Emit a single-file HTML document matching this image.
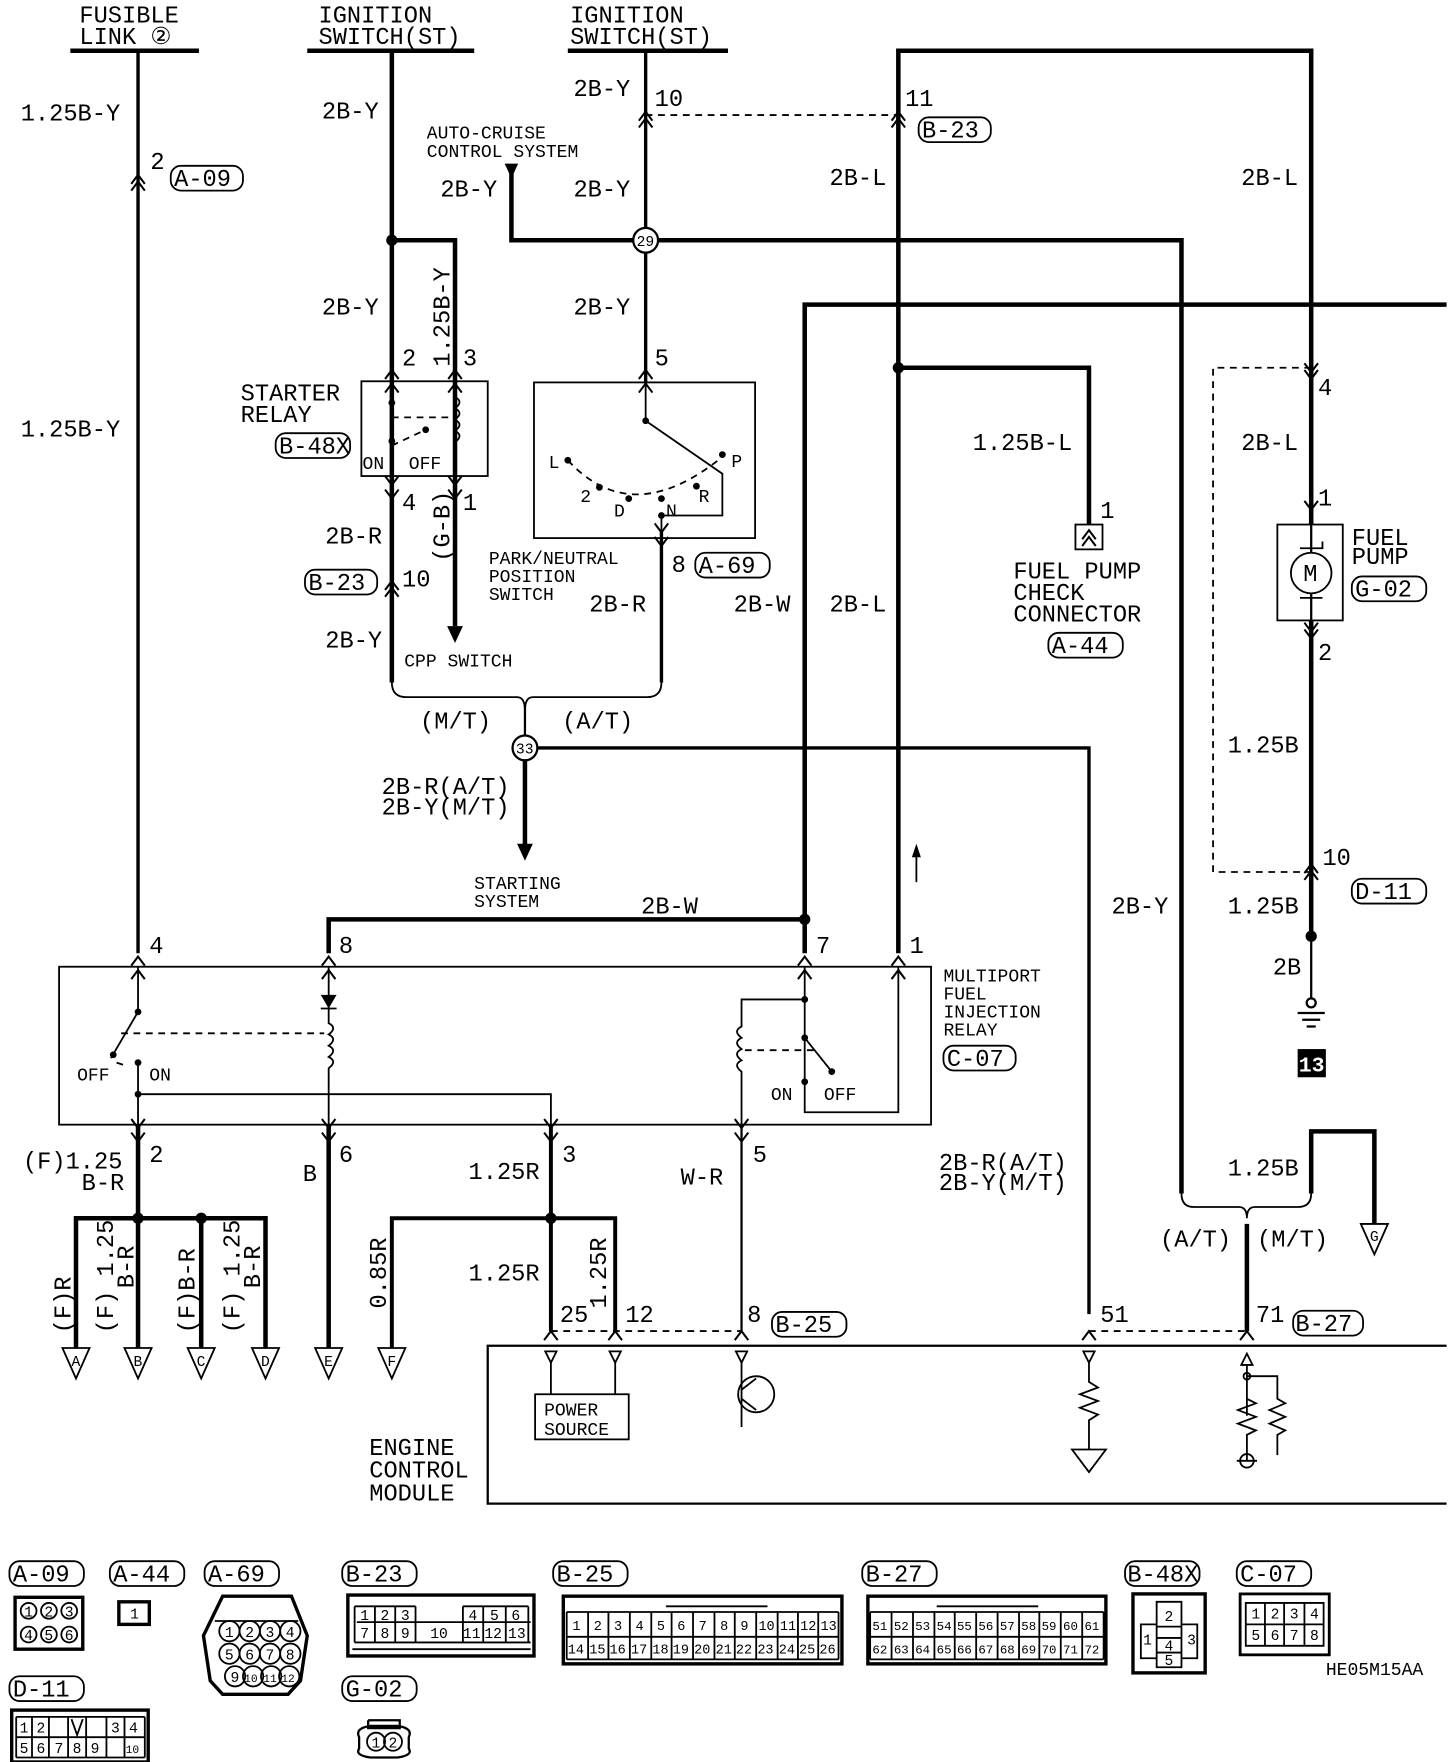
<!DOCTYPE html>
<html><head><meta charset="utf-8"><style>
html,body{margin:0;padding:0;background:#fff}
svg{display:block}
text{font-family:"Liberation Mono",monospace;fill:#000}
.t{font-size:21px}
.s{font-size:16px}
.xs{font-size:13px}
.w{stroke:#000;fill:none;stroke-width:4}
.n{stroke:#000;fill:none;stroke-width:2}
.d{stroke:#000;fill:none;stroke-width:1.6;stroke-dasharray:6 5}
.b{stroke:#000;fill:none;stroke-width:1.6}
</style></head><body>
<svg width="1456" height="1762" viewBox="0 0 1290 1562" xmlns="http://www.w3.org/2000/svg">
<defs>
<path id="u" d="M-6,8L0,0L6,8" fill="none" stroke="#000" stroke-width="1.8"/>
<path id="v" d="M-6,-8L0,0L6,-8" fill="none" stroke="#000" stroke-width="1.8"/>
</defs>
<rect width="1290" height="1562" fill="#fff"/>

<!-- headers -->
<text class="t" x="70" y="20">FUSIBLE</text><text class="t" x="70" y="39">LINK ②</text>
<path class="w" d="M62,45H176"/>
<text class="t" x="282" y="20">IGNITION</text><text class="t" x="282" y="39">SWITCH(ST)</text>
<path class="w" d="M272,45H420"/>
<text class="t" x="505" y="20">IGNITION</text><text class="t" x="505" y="39">SWITCH(ST)</text>
<path class="w" d="M503,45H645"/>
<path class="w" d="M796,845V45H1162V830"/>

<!-- fusible wire -->
<path class="n" d="M122,45V845" style="stroke-width:3"/>
<text class="t" x="18" y="107">1.25B-Y</text>
<use href="#u" x="122" y="155"/><use href="#u" x="122" y="161"/>
<text class="t" x="133" y="150">2</text>
<rect x="151" y="147" width="64" height="22" rx="9" class="b"/><text class="t" x="154" y="165">A-09</text>
<text class="t" x="18" y="387">1.25B-Y</text>

<!-- ignition 1 -->
<path class="w" d="M347,45V605"/>
<path class="w" d="M347,213H403V555"/>
<circle cx="347" cy="213" r="5"/>
<path d="M396,555L410,555L403,570Z"/>
<text class="t" x="285" y="105">2B-Y</text>
<text class="t" x="285" y="279">2B-Y</text>
<text class="t" transform="translate(398,325) rotate(-90)">1.25B-Y</text>
<text class="t" x="356" y="324">2</text><text class="t" x="410" y="324">3</text>
<use href="#u" x="347" y="328"/><use href="#u" x="403" y="328"/>
<rect x="320" y="338" width="112" height="84" class="b"/>
<use href="#u" x="347" y="340"/><use href="#u" x="403" y="340"/>
<text class="t" x="213" y="355">STARTER</text><text class="t" x="213" y="374">RELAY</text>
<rect x="244" y="384" width="66" height="22" rx="9" class="b"/><text class="t" x="247" y="402">B-48X</text>
<circle cx="347" cy="357" r="3"/><circle cx="347" cy="391" r="3"/><circle cx="377" cy="381" r="3"/>
<path class="d" d="M347,395L377,381"/><path class="d" d="M347,370H398"/>
<path class="b" d="M403,345V352q8,4 0,10q8,4 0,10q8,4 0,10q8,4 0,10V422"/>
<text class="s" x="321" y="416">ON</text><text class="s" x="362" y="416">OFF</text>
<use href="#v" x="347" y="430"/><use href="#v" x="403" y="430"/>
<use href="#v" x="347" y="442"/><use href="#v" x="403" y="442"/>
<text class="t" x="356" y="452">4</text><text class="t" x="410" y="452">1</text>
<text class="t" x="288" y="482">2B-R</text>
<text class="t" transform="translate(398,498) rotate(-90)">(G-B)</text>
<rect x="270" y="505" width="64" height="22" rx="9" class="b"/><text class="t" x="273" y="523">B-23</text>
<use href="#u" x="347" y="515"/><use href="#u" x="347" y="521"/>
<text class="t" x="356" y="520">10</text>
<text class="t" x="288" y="574">2B-Y</text>
<text class="s" x="358" y="591">CPP SWITCH</text>

<!-- ignition 2 -->
<path class="w" d="M572,45V340" style="stroke-width:3"/>
<text class="t" x="508" y="85">2B-Y</text><text class="t" x="580" y="94">10</text>
<use href="#u" x="572" y="99"/><use href="#u" x="572" y="105"/>
<use href="#u" x="796" y="99"/><use href="#u" x="796" y="105"/>
<path class="d" d="M572,102H796"/>
<text class="t" x="802" y="94">11</text>
<rect x="814" y="104" width="64" height="22" rx="9" class="b"/><text class="t" x="817" y="122">B-23</text>
<text class="s" x="378" y="123">AUTO-CRUISE</text><text class="s" x="378" y="139">CONTROL SYSTEM</text>
<path d="M447,145H459L453,158Z"/>
<path class="w" d="M453,150V213H1047V1058"/>
<text class="t" x="390" y="174">2B-Y</text><text class="t" x="508" y="174">2B-Y</text>
<circle cx="572" cy="213" r="11" fill="#fff" stroke="#000" stroke-width="2"/><text class="xs" x="564" y="218">29</text>
<text class="t" x="508" y="279">2B-Y</text>
<text class="t" x="580" y="324">5</text>
<use href="#u" x="572" y="328"/><use href="#u" x="572" y="340"/>
<text class="t" x="735" y="164">2B-L</text><text class="t" x="1100" y="164">2B-L</text>
<!-- P/N switch -->
<rect x="473" y="339" width="196" height="138" class="b"/>
<path class="b" d="M572,340V373L640,420V457H586V470"/>
<circle cx="572" cy="373" r="3"/><circle cx="640" cy="403" r="3"/><circle cx="586" cy="457" r="3"/>
<path class="d" d="M503,408Q560,470 640,405"/>
<circle cx="503" cy="408" r="3"/><circle cx="531" cy="432" r="3"/><circle cx="557" cy="442" r="3"/><circle cx="586" cy="442" r="3"/><circle cx="617" cy="431" r="3"/>
<text class="s" x="486" y="415">L</text><text class="s" x="514" y="445">2</text><text class="s" x="544" y="458">D</text><text class="s" x="590" y="458">N</text><text class="s" x="619" y="445">R</text><text class="s" x="648" y="414">P</text>
<use href="#v" x="586" y="472"/><use href="#v" x="586" y="484"/>
<path class="n" d="M586,470V605" style="stroke-width:3"/>
<text class="t" x="595" y="507">8</text>
<rect x="616" y="490" width="66" height="22" rx="9" class="b"/><text class="t" x="619" y="508">A-69</text>
<text class="s" x="433" y="500">PARK/NEUTRAL</text><text class="s" x="433" y="516">POSITION</text><text class="s" x="433" y="532">SWITCH</text>
<text class="t" x="522" y="542">2B-R</text>
<text class="t" x="650" y="542">2B-W</text><text class="t" x="735" y="542">2B-L</text>

<!-- bracket -->
<path class="b" d="M347,605Q347,618 360,618H458Q465,618 465,630Q465,618 472,618H573Q586,618 586,605"/>
<path class="n" d="M465,625V652"/>
<text class="t" x="372" y="646">(M/T)</text><text class="t" x="498" y="646">(A/T)</text>
<circle cx="465" cy="663" r="11" fill="#fff" stroke="#000" stroke-width="2"/><text class="xs" x="457" y="668">33</text>
<path class="w" d="M476,663H965V1165" style="stroke-width:3"/>
<path class="w" d="M465,674V750"/><path d="M458,748H472L465,763Z"/>
<text class="t" x="338" y="704">2B-R(A/T)</text><text class="t" x="338" y="722">2B-Y(M/T)</text>
<text class="s" x="420" y="788">STARTING</text><text class="s" x="420" y="804">SYSTEM</text>
<path class="b" d="M812,782V755"/><path d="M808,760L812,748L816,760Z"/>

<!-- right center wires -->
<path class="w" d="M713,845V270H1282"/>
<circle cx="713" cy="815" r="5"/><path class="w" d="M291,845V815H713"/>
<text class="t" x="568" y="810">2B-W</text>
<circle cx="796" cy="326" r="5"/><path class="w" d="M796,326H965V465"/>
<text class="t" x="862" y="399">1.25B-L</text><text class="t" x="975" y="459">1</text>
<rect x="953" y="465" width="24" height="22" class="b"/><use href="#u" x="965" y="470"/><use href="#u" x="965" y="476"/>
<text class="t" x="898" y="513">FUEL PUMP</text><text class="t" x="898" y="532">CHECK</text><text class="t" x="898" y="551">CONNECTOR</text>
<rect x="929" y="561" width="66" height="22" rx="9" class="b"/><text class="t" x="932" y="579">A-44</text>

<!-- fuel pump -->
<path class="d" d="M1162,326H1075V773H1162"/>
<use href="#v" x="1162" y="330"/><use href="#v" x="1162" y="336"/>
<text class="t" x="1168" y="350">4</text><text class="t" x="1100" y="399">2B-L</text>
<text class="t" x="1168" y="448">1</text><use href="#v" x="1162" y="452"/>
<rect x="1132" y="465" width="58" height="85" fill="#fff" stroke="#000" stroke-width="1.6"/>
<path class="n" d="M1162,465V490M1162,526V550"/>
<circle cx="1162" cy="508" r="18" fill="#fff" stroke="#000" stroke-width="1.6"/>
<text class="t" x="1155" y="515">M</text>
<path class="b" d="M1152,486H1172V480M1152,530H1172"/>
<text class="t" x="1198" y="483">FUEL</text><text class="t" x="1198" y="500">PUMP</text>
<rect x="1198" y="511" width="66" height="22" rx="9" class="b"/><text class="t" x="1201" y="529">G-02</text>
<use href="#v" x="1162" y="560"/><use href="#v" x="1162" y="566"/>
<text class="t" x="1168" y="585">2</text><text class="t" x="1088" y="667">1.25B</text>
<use href="#u" x="1162" y="766"/><use href="#u" x="1162" y="772"/>
<text class="t" x="1172" y="767">10</text>
<text class="t" x="1088" y="810">1.25B</text>
<rect x="1198" y="779" width="66" height="22" rx="9" class="b"/><text class="t" x="1201" y="797">D-11</text>
<circle cx="1162" cy="830" r="5"/><text class="t" x="1128" y="864">2B</text>
<path class="n" d="M1162,830V885"/><circle cx="1162" cy="889" r="4" fill="#fff" stroke="#000" stroke-width="2"/>
<path class="n" d="M1150,898H1174M1154,904H1170M1158,910H1166"/>
<rect x="1150" y="930" width="25" height="25"/><text x="1151" y="950" style="font-size:19px;fill:#fff;font-weight:bold">13</text>
<text class="t" x="985" y="810">2B-Y</text>

<!-- relay box -->
<rect x="52" y="857" width="773" height="140" class="b"/>
<text class="t" x="132" y="845">4</text><text class="t" x="300" y="845">8</text><text class="t" x="723" y="845">7</text><text class="t" x="806" y="845">1</text>
<use href="#u" x="122" y="848"/><use href="#u" x="122" y="860"/>
<use href="#u" x="291" y="848"/><use href="#u" x="291" y="860"/>
<use href="#u" x="713" y="848"/><use href="#u" x="713" y="860"/>
<use href="#u" x="796" y="848"/><use href="#u" x="796" y="860"/>
<text class="s" x="836" y="870">MULTIPORT</text><text class="s" x="836" y="886">FUEL</text><text class="s" x="836" y="902">INJECTION</text><text class="s" x="836" y="918">RELAY</text>
<rect x="836" y="927" width="64" height="22" rx="9" class="b"/><text class="t" x="839" y="945">C-07</text>
<!-- left switch -->
<path class="b" d="M122,857V897L98,938"/><circle cx="122" cy="897" r="3"/><circle cx="100" cy="935" r="3"/>
<circle cx="122" cy="942" r="3"/><path class="b" d="M122,942V997"/><circle cx="122" cy="970" r="3"/>
<path class="d" d="M107,916H287"/><path class="d" d="M103,942L112,945"/>
<text class="s" x="68" y="958">OFF</text><text class="s" x="132" y="958">ON</text>
<path class="b" d="M122,970H488V997"/>
<path d="M284,882H298L291,894Z"/><path class="b" d="M284,894H298"/>
<path class="b" d="M291,857V907q8,4 0,10q8,4 0,10q8,4 0,10q8,4 0,10V997"/>
<!-- right switch -->
<path class="b" d="M713,857V986H796V857"/>
<path class="b" d="M713,886H657V910q-8,4 0,10q-8,4 0,10q-8,4 0,10q-8,4 0,10V997"/>
<circle cx="713" cy="886" r="3"/><circle cx="713" cy="920" r="3"/><circle cx="737" cy="950" r="3"/>
<path class="b" d="M713,920L737,950"/><circle cx="713" cy="959" r="3"/>
<path class="d" d="M660,931H725"/>
<text class="s" x="683" y="975">ON</text><text class="s" x="730" y="975">OFF</text>
<use href="#v" x="122" y="1000"/><use href="#v" x="122" y="1012"/>
<use href="#v" x="291" y="1000"/><use href="#v" x="291" y="1012"/>
<use href="#v" x="488" y="1000"/><use href="#v" x="488" y="1012"/>
<use href="#v" x="657" y="1000"/><use href="#v" x="657" y="1012"/>

<!-- lower left -->
<path class="w" d="M122,997V1080M67,1195V1080H235V1195M122,1080V1195M178,1080V1195"/>
<circle cx="122" cy="1080" r="5"/><circle cx="178" cy="1080" r="5"/>
<text class="t" x="132" y="1030">2</text>
<text class="t" x="20" y="1036">(F)1.25</text><text class="t" x="72" y="1055">B-R</text>
<text class="t" transform="translate(62,1182) rotate(-90)">(F)R</text>
<text class="t" transform="translate(100,1182) rotate(-90)">(F) 1.25</text>
<text class="t" transform="translate(118,1142) rotate(-90)">B-R</text>
<text class="t" transform="translate(172,1182) rotate(-90)">(F)B-R</text>
<text class="t" transform="translate(212,1182) rotate(-90)">(F) 1.25</text>
<text class="t" transform="translate(230,1142) rotate(-90)">B-R</text>
<path class="w" d="M291,997V1195"/>
<text class="t" x="268" y="1047">B</text><text class="t" x="300" y="1030">6</text>
<path class="w" d="M488,997V1180M347,1195V1080H545V1180" style="stroke-width:3.5"/>
<circle cx="488" cy="1080" r="5"/>
<text class="t" x="498" y="1030">3</text>
<text class="t" x="415" y="1045">1.25R</text><text class="t" x="415" y="1135">1.25R</text>
<text class="t" transform="translate(342,1160) rotate(-90)">0.85R</text>
<text class="t" transform="translate(537,1160) rotate(-90)">1.25R</text>
<text class="t" x="496" y="1172">25</text><text class="t" x="554" y="1172">12</text>
<path class="n" d="M657,997V1180"/>
<text class="t" x="603" y="1050">W-R</text><text class="t" x="667" y="1030">5</text>
<text class="t" x="662" y="1172">8</text>
<rect x="684" y="1163" width="66" height="22" rx="9" class="b"/><text class="t" x="687" y="1181">B-25</text>
<!-- ground triangles -->
<g class="b" fill="#fff">
<path d="M55,1195H79L67,1222Z"/><path d="M110,1195H134L122,1222Z"/><path d="M166,1195H190L178,1222Z"/><path d="M223,1195H247L235,1222Z"/><path d="M279,1195H303L291,1222Z"/><path d="M335,1195H359L347,1222Z"/>
</g>
<g class="xs"><text x="63" y="1211">A</text><text x="118" y="1211">B</text><text x="174" y="1211">C</text><text x="231" y="1211">D</text><text x="287" y="1211">E</text><text x="343" y="1211">F</text></g>

<!-- right lower -->
<path class="w" d="M1162,1058V1003H1218V1085"/>
<path class="b" d="M1047,1058Q1047,1070 1058,1070H1098Q1105,1070 1105,1080Q1105,1070 1112,1070H1150Q1162,1070 1162,1058"/>
<path class="w" d="M1105,1085V1180"/>
<path class="b" d="M1206,1085H1230L1218,1112Z"/><text class="xs" x="1214" y="1100">G</text>
<text class="t" x="1088" y="1042">1.25B</text>
<text class="t" x="832" y="1037">2B-R(A/T)</text><text class="t" x="832" y="1055">2B-Y(M/T)</text>
<text class="t" x="1028" y="1105">(A/T)</text><text class="t" x="1114" y="1105">(M/T)</text>
<text class="t" x="975" y="1172">51</text><text class="t" x="1113" y="1172">71</text>
<rect x="1146" y="1162" width="62" height="22" rx="9" class="b"/><text class="t" x="1148" y="1180">B-27</text>
<path class="d" d="M488,1180H657M965,1180H1105"/>
<use href="#u" x="488" y="1180"/><use href="#u" x="545" y="1180"/><use href="#u" x="657" y="1180"/><use href="#u" x="965" y="1180"/><use href="#u" x="1105" y="1180"/>

<!-- ECM -->
<path class="n" d="M1282,1193H432V1333H1282"/>
<text class="t" x="327" y="1290">ENGINE</text><text class="t" x="327" y="1310">CONTROL</text><text class="t" x="327" y="1330">MODULE</text>
<g class="b">
<path d="M483,1198H493L488,1208Z"/><path d="M540,1198H550L545,1208Z"/><path d="M652,1198H662L657,1208Z"/><path d="M960,1198H970L965,1208Z"/>
<path d="M488,1208V1236M545,1208V1236"/>
<rect x="474" y="1236" width="83" height="40"/>
<path d="M657,1208V1265M657,1232L670,1222M657,1240L670,1250"/><circle cx="670" cy="1236" r="16"/>
<path d="M965,1208V1225l8,5l-16,6l16,6l-16,6l16,6l-8,5V1285"/>
<path d="M950,1285H980L965,1305Z"/>
<path d="M1100,1210H1110L1105,1200Z"/><path d="M1105,1210V1255"/><circle cx="1105" cy="1220" r="3"/>
<path d="M1105,1220H1132V1240l7,4l-14,6l14,6l-14,6l14,6l-7,4V1290"/>
<path d="M1105,1240l8,4l-16,6l16,6l-16,6l16,6l-8,4V1295"/><circle cx="1105" cy="1295" r="6"/><path d="M1096,1295H1114"/>
</g>
<text class="s" x="482" y="1255">POWER</text><text class="s" x="482" y="1272">SOURCE</text>

<!-- connectors -->
<g class="b">
<rect x="8" y="1384" width="66" height="22" rx="9"/><rect x="97" y="1384" width="66" height="22" rx="9"/><rect x="181" y="1384" width="66" height="22" rx="9"/><rect x="303" y="1384" width="66" height="22" rx="9"/><rect x="490" y="1384" width="66" height="22" rx="9"/><rect x="764" y="1384" width="66" height="22" rx="9"/><rect x="997" y="1384" width="66" height="22" rx="9"/><rect x="1096" y="1384" width="66" height="22" rx="9"/><rect x="8" y="1486" width="66" height="22" rx="9"/><rect x="303" y="1486" width="66" height="22" rx="9"/>
</g>
<g class="t"><text x="11" y="1402">A-09</text><text x="100" y="1402">A-44</text><text x="184" y="1402">A-69</text><text x="306" y="1402">B-23</text><text x="493" y="1402">B-25</text><text x="767" y="1402">B-27</text><text x="999" y="1402">B-48X</text><text x="1099" y="1402">C-07</text><text x="11" y="1504">D-11</text><text x="306" y="1504">G-02</text></g>
<!-- A-09 -->
<rect x="13" y="1416" width="60" height="46" fill="none" stroke="#000" stroke-width="3"/>
<g class="b"><circle cx="25" cy="1428" r="7"/><circle cx="43" cy="1428" r="7"/><circle cx="61" cy="1428" r="7"/><circle cx="25" cy="1449" r="7"/><circle cx="43" cy="1449" r="7"/><circle cx="61" cy="1449" r="7"/></g>
<g class="xs"><text x="21" y="1433">1</text><text x="39" y="1433">2</text><text x="57" y="1433">3</text><text x="21" y="1454">4</text><text x="39" y="1454">5</text><text x="57" y="1454">6</text></g>
<!-- A-44 -->
<rect x="105" y="1420" width="27" height="20" fill="none" stroke="#000" stroke-width="3"/><text class="xs" x="115" y="1435">1</text>
<!-- A-69 -->
<path class="n" d="M197,1415H258L272,1450L266,1490L255,1502H197L186,1490L180,1450Z" style="stroke-width:3"/>
<path class="b" d="M190,1437H264"/>
<g class="b">
<circle cx="203" cy="1446" r="9"/><circle cx="221" cy="1446" r="9"/><circle cx="239" cy="1446" r="9"/><circle cx="257" cy="1446" r="9"/>
<circle cx="203" cy="1466" r="9"/><circle cx="221" cy="1466" r="9"/><circle cx="239" cy="1466" r="9"/><circle cx="257" cy="1466" r="9"/>
<circle cx="208" cy="1486" r="9"/><circle cx="224" cy="1486" r="9"/><circle cx="240" cy="1486" r="9"/><circle cx="256" cy="1486" r="9"/>
</g>
<g class="xs"><text x="199" y="1451">1</text><text x="217" y="1451">2</text><text x="235" y="1451">3</text><text x="253" y="1451">4</text><text x="199" y="1471">5</text><text x="217" y="1471">6</text><text x="235" y="1471">7</text><text x="253" y="1471">8</text><text x="204" y="1491">9</text><text x="216" y="1491" style="font-size:10px">10</text><text x="233" y="1491" style="font-size:10px">11</text><text x="249" y="1491" style="font-size:10px">12</text></g>
<!-- B-23 -->
<rect x="308" y="1414" width="165" height="54" fill="none" stroke="#000" stroke-width="3"/>
<g class="b"><path d="M314,1424H368M316,1438H470M314,1456H470M314,1424V1456M332,1424V1456M350,1424V1456M368,1424V1456M410,1424V1456M428,1424V1456M448,1424V1456M468,1424V1456M410,1424H468M312,1462H470"/></g>
<g class="xs"><text x="319" y="1436">1</text><text x="337" y="1436">2</text><text x="355" y="1436">3</text><text x="415" y="1436">4</text><text x="434" y="1436">5</text><text x="453" y="1436">6</text><text x="319" y="1452">7</text><text x="337" y="1452">8</text><text x="355" y="1452">9</text><text x="381" y="1452">10</text><text x="410" y="1452">11</text><text x="429" y="1452">12</text><text x="450" y="1452">13</text></g>
<!-- B-25 -->
<rect x="499" y="1415" width="247" height="60" fill="none" stroke="#000" stroke-width="3"/>
<path class="b" d="M502,1429H743M502,1451H743M502,1471H743M502,1429V1471M521,1429V1471M539,1429V1471M558,1429V1471M577,1429V1471M595,1429V1471M614,1429V1471M633,1429V1471M651,1429V1471M670,1429V1471M689,1429V1471M707,1429V1471M725,1429V1471M743,1429V1471M590,1424H680"/>
<g style="font-size:12px"><text x="507" y="1445">1</text><text x="526" y="1445">2</text><text x="544" y="1445">3</text><text x="563" y="1445">4</text><text x="582" y="1445">5</text><text x="600" y="1445">6</text><text x="619" y="1445">7</text><text x="638" y="1445">8</text><text x="656" y="1445">9</text><text x="672" y="1445">10</text><text x="691" y="1445">11</text><text x="709" y="1445">12</text><text x="727" y="1445">13</text>
<text x="503" y="1466">14</text><text x="522" y="1466">15</text><text x="540" y="1466">16</text><text x="559" y="1466">17</text><text x="578" y="1466">18</text><text x="596" y="1466">19</text><text x="615" y="1466">20</text><text x="634" y="1466">21</text><text x="652" y="1466">22</text><text x="671" y="1466">23</text><text x="690" y="1466">24</text><text x="708" y="1466">25</text><text x="726" y="1466">26</text></g>
<!-- B-27 -->
<rect x="769" y="1415" width="211" height="60" fill="none" stroke="#000" stroke-width="3"/>
<path class="b" d="M771,1429H978M771,1451H978M771,1471H978M771,1429V1471M790,1429V1471M809,1429V1471M828,1429V1471M846,1429V1471M865,1429V1471M884,1429V1471M903,1429V1471M921,1429V1471M940,1429V1471M959,1429V1471M978,1429V1471M830,1424H920"/>
<g style="font-size:11px"><text x="773" y="1445">51</text><text x="792" y="1445">52</text><text x="811" y="1445">53</text><text x="830" y="1445">54</text><text x="848" y="1445">55</text><text x="867" y="1445">56</text><text x="886" y="1445">57</text><text x="905" y="1445">58</text><text x="923" y="1445">59</text><text x="942" y="1445">60</text><text x="961" y="1445">61</text>
<text x="773" y="1466">62</text><text x="792" y="1466">63</text><text x="811" y="1466">64</text><text x="830" y="1466">65</text><text x="848" y="1466">66</text><text x="867" y="1466">67</text><text x="886" y="1466">68</text><text x="905" y="1466">69</text><text x="923" y="1466">70</text><text x="942" y="1466">71</text><text x="961" y="1466">72</text></g>
<!-- B-48X -->
<rect x="1004" y="1413" width="64" height="70" fill="none" stroke="#000" stroke-width="3"/>
<path class="b" d="M1025,1420H1047V1442H1025ZM1011,1440H1025V1470H1011ZM1047,1440H1061V1470H1047ZM1025,1452H1047V1478H1025ZM1025,1465H1047"/>
<g class="xs"><text x="1032" y="1437">2</text><text x="1013" y="1458">1</text><text x="1052" y="1458">3</text><text x="1032" y="1463">4</text><text x="1032" y="1476">5</text></g>
<!-- C-07 -->
<rect x="1099" y="1413" width="79" height="54" fill="none" stroke="#000" stroke-width="2.5"/>
<path class="b" d="M1104,1421H1173V1459H1104ZM1104,1440H1173M1121,1421V1459M1138,1421V1459M1156,1421V1459"/>
<g class="xs"><text x="1109" y="1435">1</text><text x="1126" y="1435">2</text><text x="1143" y="1435">3</text><text x="1161" y="1435">4</text><text x="1109" y="1454">5</text><text x="1126" y="1454">6</text><text x="1143" y="1454">7</text><text x="1161" y="1454">8</text></g>
<text class="s" x="1175" y="1485">HE05M15AA</text>
<!-- D-11 -->
<rect x="10" y="1516" width="121" height="46" fill="none" stroke="#000" stroke-width="3"/>
<path class="b" d="M14,1522H128M14,1540H128M14,1558H128M14,1522V1558M28,1522V1558M43,1522V1558M60,1522V1558M76,1522V1558M94,1522V1558M110,1522V1558M128,1522V1558M63,1524L68,1538L73,1524"/>
<g class="xs"><text x="17" y="1536">1</text><text x="32" y="1536">2</text><text x="98" y="1536">3</text><text x="114" y="1536">4</text><text x="17" y="1554">5</text><text x="32" y="1554">6</text><text x="48" y="1554">7</text><text x="64" y="1554">8</text><text x="80" y="1554">9</text><text x="111" y="1554" style="font-size:10px">10</text></g>
<!-- G-02 -->
<path class="n" d="M326,1525V1532H354V1525H326M318,1540Q314,1532 328,1530H352Q366,1532 362,1540V1550Q366,1556 352,1558H328Q314,1556 318,1550Z"/>
<circle class="b" cx="333" cy="1544" r="8"/><circle class="b" cx="348" cy="1544" r="8"/>
<g class="xs"><text x="329" y="1549">1</text><text x="344" y="1549">2</text></g>
</svg>
</body></html>
